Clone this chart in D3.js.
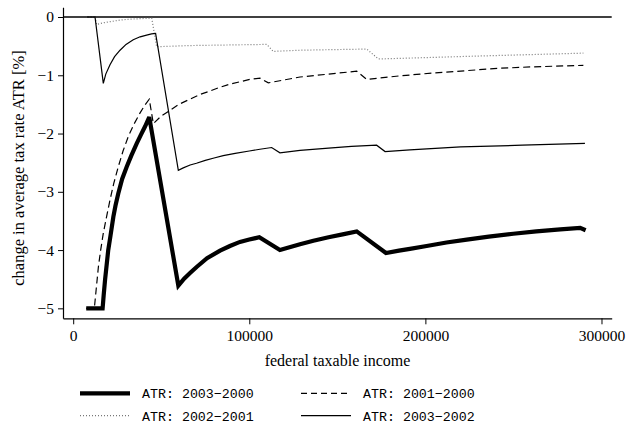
<!DOCTYPE html>
<html>
<head>
<meta charset="utf-8">
<script src="https://cdn.jsdelivr.net/npm/d3@7"></script>
<style>
  html, body { margin: 0; padding: 0; background: #fff; }
  svg { display: block; }
</style>
</head>
<body>
<svg id="chart" width="626" height="427"></svg>
<script>
// ---- data ----
const xTicks = [0, 100000, 200000, 300000];
const yTicks = [0, -1, -2, -3, -4, -5];

const income_2003_2000 = [7400, 16700, 17300, 18100, 19900, 21200, 22800, 24000, 25600, 27800, 30400, 33000, 36100, 38500, 40800, 43200,
  59700, 63000, 66500, 70100, 76000, 83400, 89000, 94700, 100000, 105700,
  117400, 128800, 136400, 145000, 153000, 161000,
  177600, 185000, 191200, 200700, 212000, 223500, 236000, 249900, 263000, 276600, 287900, 291000];
const atr_2003_2000 = [-5, -5, -4.78, -4.51, -4.0, -3.75, -3.43, -3.24, -3.03, -2.78, -2.57, -2.38, -2.17, -2.02, -1.88, -1.72,
  -4.61, -4.49, -4.39, -4.29, -4.14, -4.01, -3.93, -3.86, -3.82, -3.78,
  -4.0, -3.90, -3.84, -3.78, -3.73, -3.68,
  -4.05, -4.01, -3.98, -3.93, -3.87, -3.82, -3.77, -3.72, -3.68, -3.645, -3.62, -3.66];

const income_2001_2000 = [7400, 12000, 14300, 15600, 17100, 19000, 20900, 23000, 25600, 28300, 31300, 34500, 37900, 40500, 43200,
  45500, 50000, 55000, 60000, 66300, 72000, 77700, 83000, 89100, 95000, 100400, 106100,
  110800, 128800, 145000, 161000,
  166700, 185600, 205000, 223500, 242000, 261300, 289700];
const atr_2001_2000 = [-5, -5, -4.29, -4.0, -3.71, -3.42, -3.14, -2.86, -2.57, -2.30, -2.05, -1.84, -1.65, -1.52, -1.41,
  -1.83, -1.70, -1.60, -1.50, -1.41, -1.33, -1.27, -1.21, -1.15, -1.11, -1.07, -1.05,
  -1.13, -1.03, -0.98, -0.93,
  -1.07, -1.01, -0.96, -0.92, -0.88, -0.855, -0.83];

const income_2002_2001 = [7400, 12400, 13300, 17000, 20900, 25000, 30400, 37000, 44600, 47400, 66400, 109900, 113600, 128800, 166700, 173300, 185600, 230000, 289700];
const atr_2002_2001 = [0, 0, -0.13, -0.10, -0.08, -0.06, -0.04, -0.03, -0.02, -0.51, -0.49, -0.47, -0.59, -0.57, -0.55, -0.72, -0.71, -0.67, -0.62];

const income_2003_2002 = [7600, 12400, 17100, 18500, 20900, 23500, 26600, 30000, 34100, 38000, 41700, 44500, 46800,
  59700, 62500, 66400, 70000, 75000, 80000, 85200, 92000, 100000, 106000, 112700,
  117400, 128800, 145000, 158000, 172300,
  177100, 191200, 220000, 255000, 290600];
const atr_2003_2002 = [0, 0, -1.14, -0.98, -0.82, -0.68, -0.57, -0.47, -0.39, -0.34, -0.31, -0.29, -0.28,
  -2.63, -2.59, -2.54, -2.51, -2.46, -2.42, -2.38, -2.34, -2.30, -2.27, -2.24,
  -2.33, -2.29, -2.25, -2.22, -2.20,
  -2.31, -2.28, -2.23, -2.20, -2.17];

const seriesNames = ["ATR: 2003\u22122000", "ATR: 2001\u22122000", "ATR: 2002\u22122001", "ATR: 2003\u22122002"];

// ---- scales ----
const svg = d3.select("#chart");
const x = d3.scaleLinear().domain([-5790, 305800]).range([63, 611.7]);
const y = d3.scaleLinear().domain([0.1665, -5.171]).range([7.3, 318.3]);

const styles = [
  { w: 4.2, dash: null, color: "#000" },
  { w: 1.2, dash: "7,4", color: "#000" },
  { w: 1.2, dash: "1,2", color: "#777" },
  { w: 1.2, dash: null, color: "#000" }
];
const seriesData = [
  d3.zip(income_2003_2000, atr_2003_2000),
  d3.zip(income_2001_2000, atr_2001_2000),
  d3.zip(income_2002_2001, atr_2002_2001),
  d3.zip(income_2003_2002, atr_2003_2002)
];

const serif = "'Liberation Serif', 'Times New Roman', serif";
const mono = "'Liberation Mono', 'Courier New', monospace";

// axes
const xAxis = d3.axisBottom(x).tickValues(xTicks).tickFormat(d3.format("d")).tickSize(6).tickSizeOuter(0);
const yAxis = d3.axisLeft(y).tickValues(yTicks).tickFormat(d3.format("d")).tickSize(5).tickSizeOuter(0);

const gx = svg.append("g").attr("transform", "translate(0,318.3)").call(xAxis);
const gy = svg.append("g").attr("transform", "translate(63,0)").call(yAxis);
[gx, gy].forEach(g => {
  g.selectAll("path.domain").attr("stroke", "#000").attr("stroke-width", 1.2);
  g.selectAll(".tick line").attr("stroke", "#000").attr("stroke-width", 1);
  g.selectAll(".tick text").attr("fill", "#000").style("font-family", serif).style("font-size", "15.5px");
});
gx.selectAll(".tick text").attr("dy", "0.95em").attr("y", 8);
gy.selectAll(".tick text").attr("x", -9);

// zero line
svg.append("line")
  .attr("x1", x.range()[0]).attr("x2", x.range()[1])
  .attr("y1", y(0)).attr("y2", y(0))
  .attr("stroke", "#000").attr("stroke-width", 1.4);

// lines
const line = d3.line().x(d => x(d[0])).y(d => y(d[1]));
[2, 3, 1, 0].forEach(i => {
  svg.append("path")
    .datum(seriesData[i])
    .attr("d", line)
    .attr("fill", "none")
    .attr("stroke", styles[i].color)
    .attr("stroke-width", styles[i].w)
    .attr("stroke-dasharray", styles[i].dash)
    .attr("stroke-linejoin", "miter")
    .attr("stroke-miterlimit", 3);
});

// axis titles
svg.append("text")
  .attr("x", 337.5).attr("y", 366)
  .attr("text-anchor", "middle")
  .style("font-family", serif).style("font-size", "16px")
  .text("federal taxable income");
svg.append("text")
  .attr("transform", "translate(24,168) rotate(-90)")
  .attr("text-anchor", "middle")
  .style("font-family", serif).style("font-size", "16.5px")
  .text("change in average tax rate ATR [%]");

// legend
const legendPos = [
  { lx: 80, ly: 393.3 },
  { lx: 301, ly: 393.3 },
  { lx: 80, ly: 415.7 },
  { lx: 301, ly: 415.7 }
];
legendPos.forEach((p, i) => {
  svg.append("line")
    .attr("x1", p.lx).attr("x2", p.lx + 50)
    .attr("y1", p.ly).attr("y2", p.ly)
    .attr("stroke", styles[i].color)
    .attr("stroke-width", styles[i].w)
    .attr("stroke-dasharray", i === 1 ? "6,4" : styles[i].dash);
  svg.append("text")
    .attr("x", p.lx + 62).attr("y", p.ly + 5)
    .style("font-family", mono).style("font-size", "13.3px")
    .attr("fill", "#000")
    .text(seriesNames[i]);
});
</script>
</body>
</html>
